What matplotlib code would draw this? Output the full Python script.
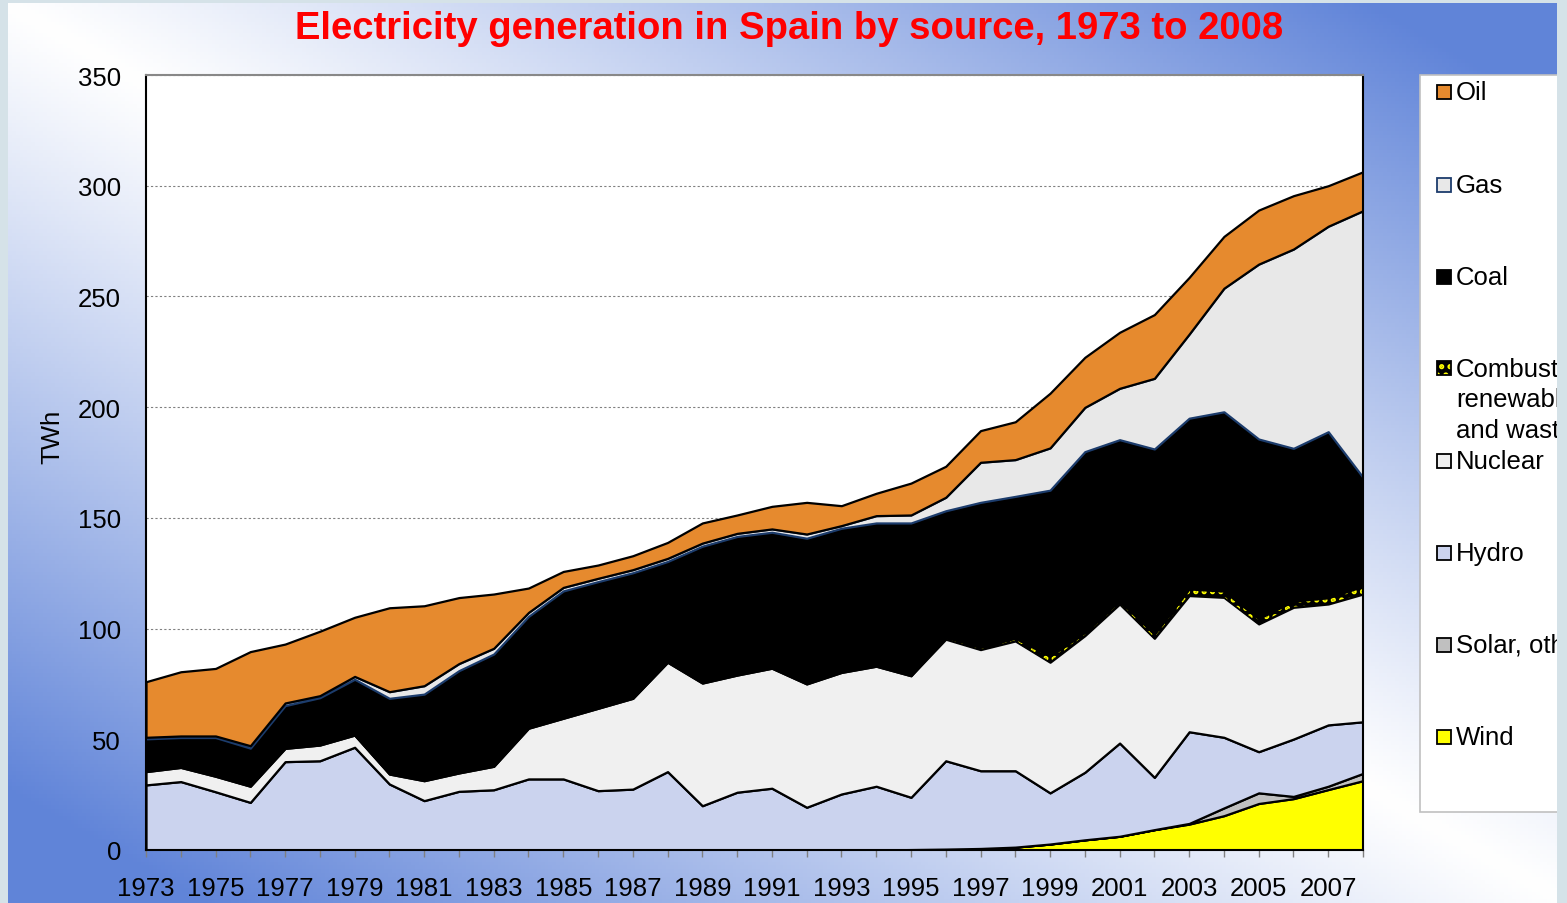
import matplotlib.pyplot as plt
import numpy as np
from matplotlib.patches import Rectangle

plt.rcParams['font.family'] = ['Liberation Sans', 'DejaVu Sans']
plt.rcParams['hatch.linewidth'] = 2.5

years = np.arange(1973, 2009)

# TWh per source, 1973..2008
wind = [0, 0, 0, 0, 0, 0, 0, 0, 0, 0, 0, 0, 0, 0, 0, 0, 0, 0, 0, 0, 0, 0,
        0.2, 0.4, 0.7, 1.3, 2.7, 4.6, 6.2, 9.2, 11.7, 15.5, 21.0, 23.2, 27.3, 31.3]
solar = [0, 0, 0, 0, 0, 0, 0, 0, 0, 0, 0, 0, 0, 0, 0, 0, 0, 0, 0, 0, 0, 0,
         0, 0, 0, 0, 0, 0, 0, 0, 0.3, 3.5, 4.8, 1.0, 1.5, 3.3]
hydro = [29.4, 30.9, 26.3, 21.5, 39.9, 40.3, 46.4, 29.8, 22.3, 26.5, 27.2, 32.1,
         32.1, 26.8, 27.5, 35.4, 20.0, 26.1, 27.9, 19.3, 25.3, 28.8, 23.6, 39.9,
         35.1, 34.5, 23.1, 30.5, 42.1, 23.6, 41.4, 31.9, 18.6, 25.9, 27.7, 23.3]
nuclear = [6.0, 6.4, 7.0, 7.3, 6.0, 7.1, 5.5, 4.5, 9.0, 8.3, 10.6, 22.9,
           27.4, 37.2, 41.0, 49.4, 55.4, 52.9, 54.2, 55.7, 54.9, 54.2, 54.9, 54.9,
           54.7, 58.6, 59.0, 61.7, 62.8, 62.8, 61.5, 63.2, 57.7, 59.5, 54.6, 57.7]
combustible = [0, 0, 0, 0, 0, 0, 0, 0, 0, 0, 0, 0, 0, 0, 0, 0, 0, 0, 0, 0, 0, 0,
               0, 0.8, 1.0, 1.2, 2.7, 1.4, 1.4, 1.8, 3.0, 2.8, 2.4, 2.8, 2.8, 3.5]
coal = [14.8, 13.5, 17.5, 17.2, 19.3, 21.4, 25.2, 34.2, 39.1, 46.2, 50.7, 50.5,
        57.5, 57.2, 56.7, 45.5, 61.8, 62.6, 61.4, 65.8, 65.1, 64.7, 69.0, 57.2,
        65.5, 64.1, 75.0, 81.7, 72.8, 83.7, 77.1, 81.0, 81.1, 69.0, 75.0, 49.2]
gas = [0.7, 0.7, 0.7, 1.1, 1.2, 0.9, 1.3, 3.0, 3.8, 3.2, 2.6, 1.8,
       1.6, 1.5, 1.4, 1.4, 1.4, 1.4, 1.5, 1.9, 1.2, 3.3, 3.6, 6.1,
       18.1, 16.6, 19.1, 20.0, 23.2, 31.9, 38.0, 55.8, 79.0, 90.0, 92.8, 120.4]
oil = [25.1, 29.0, 30.5, 42.5, 26.6, 29.1, 26.7, 37.9, 36.1, 29.8, 24.5, 11.0,
       7.2, 6.0, 6.3, 7.2, 9.1, 8.3, 10.2, 14.3, 9.0, 10.1, 14.4, 14.0,
       14.3, 17.1, 24.7, 22.6, 25.3, 28.8, 25.6, 23.4, 24.4, 24.1, 18.3, 17.6]

W, H = 1567, 904
fig = plt.figure(figsize=(W / 100, H / 100), dpi=100)


def fx(px):
    return px / W


def fy(py):
    return 1 - py / H


# slide background: blue in bottom-left and top-right corners, white through the middle
bg = fig.add_axes([0, 0, 1, 1], zorder=-5)
u = np.linspace(0, 1, 400)[None, :]
v = np.linspace(0, 1, 240)[:, None]
f = np.clip(np.abs(u - v) * 1.15, 0, 1) ** 1.1
blue = np.array([0.38, 0.52, 0.85])
img = 1 - f[..., None] * (1 - blue)[None, None, :]
bg.imshow(img, aspect='auto', extent=[0, 1, 0, 1], origin='upper')
bg.axis('off')

ax = fig.add_axes([fx(146), fy(851), fx(1363) - fx(146), fy(76) - fy(851)])
ax.set_facecolor('white')

# stacked areas, bottom to top
fills = [
    (wind, '#ffff00', 'black'),
    (solar, '#c0c0c0', 'black'),
    (hydro, '#cbd3ee', 'black'),
    (nuclear, '#f0f0f0', 'black'),
    (combustible, 'black', 'yellow'),
    (coal, 'black', 'black'),
    (gas, '#e8e8e8', '#1c3c6c'),
    (oil, '#e68a2e', 'black'),
]
base = np.zeros(len(years))
for vals, fc, ec in fills:
    top = base + np.asarray(vals)
    if vals is combustible:
        # black with yellow dots, outlined in black
        ax.fill_between(years, base, top, facecolor=fc, edgecolor=ec, hatch='..', lw=0)
        ax.fill_between(years, base, top, facecolor='none', edgecolor='black', lw=0.9)
    else:
        ax.fill_between(years, base, top, facecolor=fc, edgecolor=ec, lw=1.6)
    base = top

ax.set_xlim(1973, 2008)
ax.set_ylim(0, 350)
ax.set_yticks(range(0, 351, 50))
ax.set_xticks(years)
ax.set_xticklabels([str(y) if (y - 1973) % 2 == 0 else '' for y in years])
ax.tick_params(axis='x', length=5, width=1, color='#808080', pad=14, labelsize=18.5)
ax.tick_params(axis='y', length=0, pad=18, labelsize=18.5)
ax.grid(axis='y', linestyle=(0, (2, 2)), color='#808080', lw=0.8)
ax.set_axisbelow(True)
for side in ['left', 'bottom', 'right']:
    ax.spines[side].set_color('black')
    ax.spines[side].set_linewidth(1.5)
ax.spines['top'].set_color('#888888')
ax.spines['top'].set_linewidth(1.5)

fig.text(fx(52), fy(437), 'TWh', rotation=90, ha='center', va='center', fontsize=18.5)
fig.text(fx(789), fy(29), 'Electricity generation in Spain by source, 1973 to 2008',
         ha='center', va='center', color='#ff0000', fontsize=27.5, fontweight='bold')

# legend box, cut off by the slide edge like the original
fig.patches.append(Rectangle((fx(1420), fy(813)), fx(1600) - fx(1420), fy(76) - fy(813),
                             transform=fig.transFigure, facecolor='white',
                             edgecolor='#c0c0c0', lw=1.2, zorder=2))
legend_items = [
    ('Oil', 93, '#e68a2e', 'black', None),
    ('Gas', 186, '#e8e8e8', '#1c3c6c', None),
    ('Coal', 278, 'black', 'black', None),
    ('Combustible\nrenewables\nand waste', 369, 'black', 'yellow', '..'),
    ('Nuclear', 462, '#f0f0f0', 'black', None),
    ('Hydro', 554, '#cbd3ee', 'black', None),
    ('Solar, other', 646, '#c0c0c0', 'black', None),
    ('Wind', 738, '#ffff00', 'black', None),
]
for label, yc, fc, ec, hatch in legend_items:
    fig.patches.append(Rectangle((fx(1437), fy(yc + 7)), fx(14), 14 / H,
                                 transform=fig.transFigure, facecolor=fc,
                                 edgecolor=ec, hatch=hatch, lw=1.3 if hatch is None else 0,
                                 zorder=3))
    if hatch is not None:
        fig.patches.append(Rectangle((fx(1437), fy(yc + 7)), fx(14), 14 / H,
                                     transform=fig.transFigure, facecolor='none',
                                     edgecolor='black', lw=1.3, zorder=3))
        fig.text(fx(1456), fy(yc - 11), label, ha='left', va='top', fontsize=18.5,
                 linespacing=1.33, zorder=4)
    else:
        fig.text(fx(1456), fy(yc), label, ha='left', va='center', fontsize=18.5, zorder=4)

# light slide frame on the left, top and right
frame = '#d5e2e8'
for (x0, y0, x1, y1) in [(0, 0, 8, H), (0, 0, W, 4), (1557, 0, W, H)]:
    fig.patches.append(Rectangle((fx(x0), fy(y1)), fx(x1 - x0), (y1 - y0) / H,
                                 transform=fig.transFigure, facecolor=frame,
                                 edgecolor='none', zorder=10))

fig.savefig('out.png', dpi=100)
